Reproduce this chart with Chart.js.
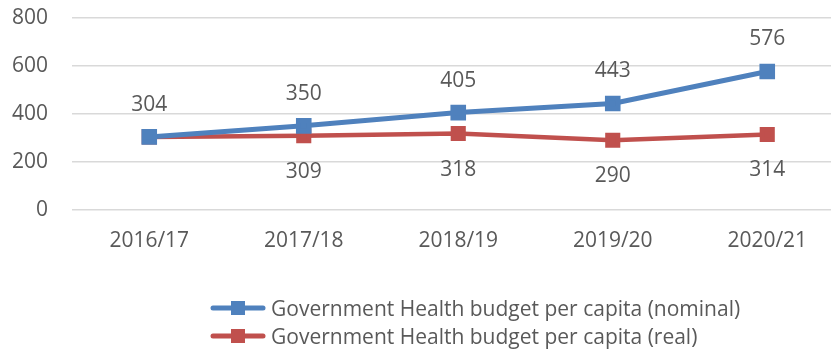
<!DOCTYPE html>
<html>
<head>
<meta charset="utf-8">
<script src="https://cdn.jsdelivr.net/npm/chart.js@4"></script>
<style>
  html, body { margin: 0; padding: 0; background: #fff; overflow: hidden; }
  #wrap { position: absolute; left: 0; top: -19px; width: 857px; height: 279px; }
  #legend { position: absolute; left: 210px; top: 294px; font-family: "Open Sans", sans-serif; font-size: 21px; color: #595959; }
  .item { display: flex; align-items: center; height: 28px; }
  .item canvas { margin-right: 5px; }
</style>
</head>
<body>
<div id="wrap"><canvas id="chart" width="857" height="279"></canvas></div>
<div id="legend"></div>
<script>
    // --- data ---
    const years = ['2016/17', '2017/18', '2018/19', '2019/20', '2020/21'];
    const nominal = [304, 350, 405, 443, 576];
    const real = [304, 309, 318, 290, 314];
    const yTicks = [0, 200, 400, 600, 800];

    const BLUE = '#4F81BD';
    const RED = '#C0504D';
    const TEXT = '#595959';
    const FONT = '"Open Sans", sans-serif';

    // value labels: nominal above, real below (skip where they overlap)
    const valueLabels = {
        id: 'valueLabels',
        afterDatasetsDraw(chart) {
            const ctx = chart.ctx;
            ctx.save();
            ctx.font = '21px ' + FONT;
            ctx.fillStyle = TEXT;
            ctx.textAlign = 'center';
            ctx.textBaseline = 'middle';
            chart.getDatasetMeta(0).data.forEach((pt, i) => {
                ctx.fillText(nominal[i], pt.x, pt.y - 32);
            });
            chart.getDatasetMeta(1).data.forEach((pt, i) => {
                if (real[i] === nominal[i]) return;
                ctx.fillText(real[i], pt.x, pt.y + 36);
            });
            ctx.restore();
        }
    };

    const ctx = document.getElementById('chart').getContext('2d');
    const chart = new Chart(ctx, {
        type: 'line',
        data: {
            labels: years,
            datasets: [{
                label: 'Government Health budget per capita (nominal)',
                data: nominal,
                borderColor: BLUE,
                backgroundColor: BLUE,
                borderWidth: 5,
                pointStyle: 'rect',
                pointRadius: 7.5,
                pointHoverRadius: 7.5,
                tension: 0
            }, {
                label: 'Government Health budget per capita (real)',
                data: real,
                borderColor: RED,
                backgroundColor: RED,
                borderWidth: 4.5,
                pointStyle: 'rect',
                pointRadius: 7.5,
                pointHoverRadius: 7.5,
                tension: 0
            }]
        },
        options: {
            responsive: false,
            animation: false,
            layout: { padding: 0 },
            plugins: {
                legend: { display: false },
                tooltip: { enabled: false }
            },
            scales: {
                x: {
                    offset: true,
                    grid: { display: false },
                    border: { display: false },
                    ticks: { color: TEXT, font: { family: FONT, size: 21 }, padding: 10 },
                    afterFit: s => { s.height = 50; }
                },
                y: {
                    min: 0,
                    max: 800,
                    afterBuildTicks: s => { s.ticks = yTicks.map(v => ({ value: v })); },
                    grid: { color: '#d9d9d9', lineWidth: 1.5, drawTicks: false },
                    border: { display: false },
                    ticks: { color: TEXT, font: { family: FONT, size: 21 }, padding: 24 },
                    afterFit: s => { s.width = 72; }
                }
            }
        },
        plugins: [valueLabels]
    });

    // legend: line + square marker sample, one row per series
    const legendEl = document.getElementById('legend');
    chart.data.datasets.forEach(ds => {
        const row = document.createElement('div');
        row.className = 'item';
        const c = document.createElement('canvas');
        c.width = 56; c.height = 20;
        const g = c.getContext('2d');
        g.strokeStyle = ds.borderColor;
        g.lineWidth = 5;
        g.lineCap = 'round';
        g.beginPath(); g.moveTo(3, 10); g.lineTo(53, 10); g.stroke();
        g.fillStyle = ds.backgroundColor;
        g.fillRect(21, 3, 14, 14);
        row.appendChild(c);
        const span = document.createElement('span');
        span.textContent = ds.label;
        row.appendChild(span);
        legendEl.appendChild(row);
    });
</script>
</body>
</html>
